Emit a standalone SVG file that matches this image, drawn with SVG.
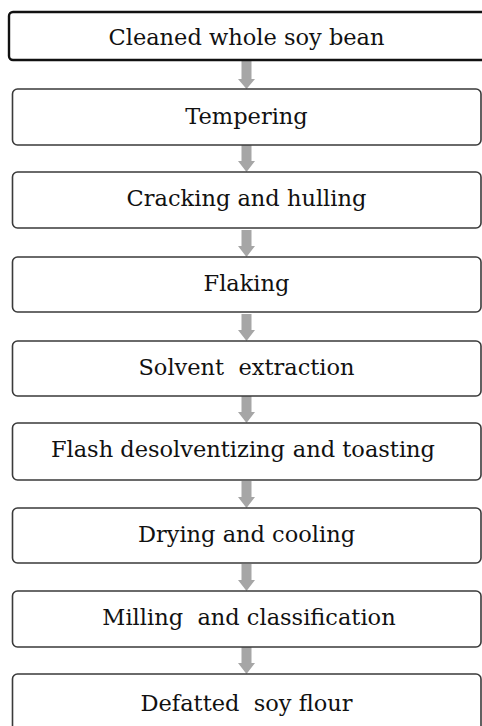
<svg xmlns="http://www.w3.org/2000/svg" width="482" height="726" viewBox="0 0 482 726">
  <style>
    .box { fill: #ffffff; stroke: #3a3a3a; stroke-width: 1.6; }
    .box-main { fill: #ffffff; stroke: #111111; stroke-width: 2.4; }
    .label { font-family: "DejaVu Serif", "Liberation Serif", serif; font-size: 22.5px; fill: #111111; text-anchor: middle; }
    .arrow { fill: #a6a6a6; stroke: none; }
  </style>
  <defs>
    <!-- down arrow, tip at origin, drawn upward from the tip -->
    <path id="down" d="M -5 -27 L 5 -27 L 5 -11 L 8.5 -11 L 0 0 L -8.5 -11 L -5 -11 Z"/>
  </defs>
  <rect width="482" height="726" fill="#ffffff"/>

  <g id="connectors">
    <path class="arrow" d="M 241.5 60 L 251.5 60 L 251.5 79 L 255 79 L 246.5 89 L 238 79 L 241.5 79 Z"/>
    <use class="arrow" href="#down" x="246.5" y="172"/>
    <use class="arrow" href="#down" x="246.5" y="257"/>
    <use class="arrow" href="#down" x="246.5" y="341"/>
    <use class="arrow" href="#down" x="246.5" y="423"/>
    <use class="arrow" href="#down" x="246.5" y="508"/>
    <use class="arrow" href="#down" x="246.5" y="591"/>
    <use class="arrow" href="#down" x="246.5" y="674"/>
  </g>

  <g id="n1">
    <rect class="box-main" x="9" y="12" width="480" height="48" rx="4"/>
    <text class="label" x="246.5" y="45">Cleaned whole soy bean</text>
  </g>
  <g id="n2">
    <rect class="box" x="12.5" y="89" width="468.5" height="56" rx="5"/>
    <text class="label" x="246.5" y="124">Tempering</text>
  </g>
  <g id="n3">
    <rect class="box" x="12.5" y="172" width="468.5" height="56" rx="5"/>
    <text class="label" x="246.5" y="206">Cracking and hulling</text>
  </g>
  <g id="n4">
    <rect class="box" x="12.5" y="257" width="468.5" height="55" rx="5"/>
    <text class="label" x="246.5" y="291">Flaking</text>
  </g>
  <g id="n5">
    <rect class="box" x="12.5" y="341" width="468.5" height="55" rx="5"/>
    <text class="label" x="246.5" y="375" xml:space="preserve">Solvent  extraction</text>
  </g>
  <g id="n6">
    <rect class="box" x="12.5" y="423" width="468.5" height="57" rx="5"/>
    <text class="label" y="457"><tspan x="285" text-anchor="end">Flash desolventizing</tspan><tspan x="435" text-anchor="end">and toasting</tspan></text>
  </g>
  <g id="n7">
    <rect class="box" x="12.5" y="508" width="468.5" height="55" rx="5"/>
    <text class="label" x="246.5" y="542">Drying and cooling</text>
  </g>
  <g id="n8">
    <rect class="box" x="12.5" y="591" width="468.5" height="56" rx="5"/>
    <text class="label" x="249" y="625" xml:space="preserve">Milling  and classification</text>
  </g>
  <g id="n9">
    <rect class="box" x="12.5" y="674" width="468.5" height="64" rx="5"/>
    <text class="label" x="246.5" y="711" xml:space="preserve">Defatted  soy flour</text>
  </g>
</svg>
